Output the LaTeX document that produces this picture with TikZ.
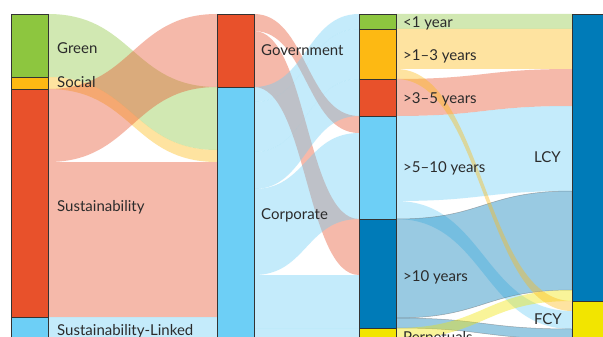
\documentclass[tikz,border=0pt]{standalone}
\usepackage{fontspec}
\setmainfont{Lato}
\usetikzlibrary{calc,backgrounds}

\definecolor{cgreen}{HTML}{8DC63F}
\definecolor{corange}{HTML}{FDB913}
\definecolor{cred}{HTML}{E8512B}
\definecolor{clblue}{HTML}{6DCFF6}
\definecolor{cdblue}{HTML}{007BB8}
\definecolor{cyellow}{HTML}{F2E500}
\definecolor{ctext}{HTML}{2B2B2B}

\tikzset{
  bar/.style={draw=black!80, line width=.9pt, inner sep=0pt, outer sep=0pt, minimum width=37pt, anchor=north west},
  ribbon/.style={fill opacity=.4},
  dkrib/.style={fill=cdblue, draw=black!60, draw opacity=.5, line width=.5pt},
  lbl/.style={font=\fontsize{15}{18}\selectfont, text=ctext, inner sep=0pt, anchor=base west}
}

% band from bar #2 (offset #3) to bar #4 (offset #5), thickness #6
\newcommand{\ribbon}[6]{%
  \path ($(#2.north east)+(0,#3)$) coordinate (ra)
        ($(#4.north west)+(0,#5)$) coordinate (rb)
        ($(#2.north east)+(0,#3+#6)$) coordinate (rc)
        ($(#4.north west)+(0,#5+#6)$) coordinate (rd)
        ($(ra)!.5!(rb)$) coordinate (rm);
  \fill[ribbon, #1] (ra) .. controls (rm |- ra) and (rm |- rb) .. (rb)
     -- (rd) .. controls (rm |- rd) and (rm |- rc) .. (rc) -- cycle;
}

\begin{document}
\begin{tikzpicture}[x=1pt, y=-1pt]
\useasboundingbox (0,0) rectangle (603,337);

% bars
\foreach \n/\x/\y/\h/\col in {green/11/14/63/cgreen, social/11/77/12/corange, sust/11/89/228/cred, sl/11/317/60/clblue,
  gov/217/14/73/cred, corp/217/87/290/clblue,
  lt1/359/14/15/cgreen, y13/359/29/50/corange, y35/359/79/37/cred, y510/359/116/103/clblue, gt10/359/219/109/cdblue, perp/359/328/50/cyellow,
  lcy/572/14/287/cdblue, fcy/572/301/60/cyellow}
{\node[bar, fill=\col, minimum height=\h pt] (\n) at (\x,\y) {};}

% flows
\begin{scope}[on background layer]
\fill[white] (0,0) rectangle (603,337);
\foreach \col/\src/\ds/\tgt/\dt/\ww in {
  cgreen/green/0/corp/0/63, corange/social/0/corp/63/12, cred/sust/0/gov/0/73,
  cred/sust/73/corp/75/155, clblue/sl/0/corp/230/60,
  cred/gov/0/y510/0/17, cred/gov/17/gt10/0/56,
  clblue/corp/0/lt1/0/15, clblue/corp/15/y13/0/50, clblue/corp/65/y35/0/37,
  clblue/corp/102/y510/17/86, clblue/corp/188/gt10/56/53, clblue/corp/241/perp/0/50,
  cgreen/lt1/0/lcy/0/15, corange/y13/0/lcy/15/40, cred/y35/0/lcy/55/37,
  clblue/y510/0/lcy/92/85, clblue/y510/85/fcy/10/18,
  dkrib/gt10/0/lcy/177/99, dkrib/gt10/99/fcy/28/10,
  cyellow/perp/0/lcy/276/11, cyellow/perp/11/fcy/38/30,
  corange/y13/40/fcy/0/10}
{\ribbon{\col}{\src}{\ds}{\tgt}{\dt}{\ww}}
\end{scope}

% labels
\foreach \n/\x/\y/\txt in {green/57/54/Green, social/57/88/Social, sust/57/211/Sustainability, sl/57/335/Sustainability-Linked,
  gov/261/56/Government, corp/261/219/Corporate,
  lt1/403/28/<1 year, y13/403/61/>1–3 years, y35/403/103/>3–5 years, y510/403/172/>5–10 years, gt10/403/281/>10 years, perp/403/342/Perpetuals}
{\node[lbl] (l\n) at (\x,\y) {\txt};}
\node[lbl, anchor=base east] (llcy) at (561,162) {LCY};
\node[lbl, anchor=base east] (lfcy) at (562,324) {FCY};

\end{tikzpicture}
\end{document}
